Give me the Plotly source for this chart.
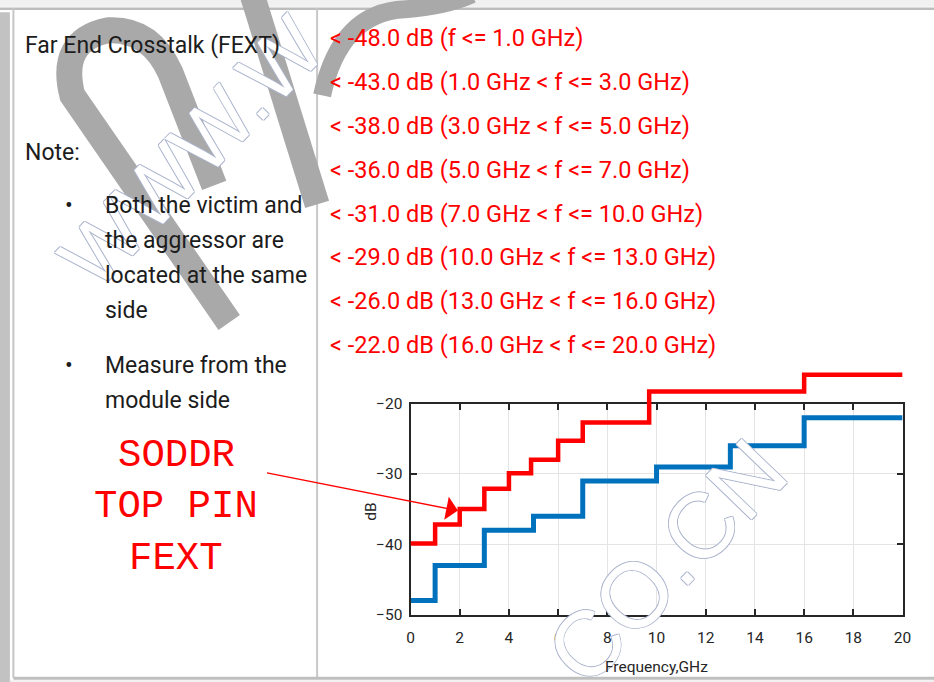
import plotly.graph_objects as go

# ---------------- data ----------------
band_edges_ghz = [0, 1, 3, 5, 7, 10, 13, 16, 20]           # spec frequency band edges
fext_limit_db = [-48, -43, -38, -36, -31, -29, -26, -22]  # spec limit per band (blue)

soddr_freq_ghz = [0, 1.0, 2.0, 3.0, 4.0, 4.9, 6.0, 7.0, 9.7, 16.0, 20.0]
soddr_fext_db = [-39.9, -37.2, -35.0, -32.1, -29.9, -28.0, -25.3, -22.7, -18.3, -15.9, -15.9]

x_ticks = list(range(0, 21, 2))
y_ticks = [-50, -40, -30, -20]

title_left = "Far End Crosstalk (FEXT)"
note_label = "Note:"
bullet1_lines = ["Both the victim and", "the aggressor are", "located at the same", "side"]
bullet2_lines = ["Measure from the", "module side"]
callout_lines = ["SODDR", "TOP PIN", "FEXT"]
x_title = "Frequency,GHz"
y_title = "dB"
watermark_texts = ["WWW.W", "CO.CN"]

# ---------------- layout helpers ----------------
# figure fills the page (body margin removed); positions below are given in
# picture pixels and mapped to page pixels (the capture is slightly scaled/offset)
W, H = 934, 682
SX, OX, SY, OY = 0.987, 3.6, 0.973, 8.7
def px(x):
    return ((x - OX) / SX) / W
def py(y):
    return 1 - ((y - OY) / SY) / H

SANS = "Roboto, Liberation Sans, sans-serif"
TXT = "#1c1c1c"
RED = "#ff0000"
BLUE = "#0072BD"
AX = "#262626"

FL, FR, FT, FB = 410.5, 903, 403, 614
Y_LO, Y_HI = -50, -20
RED_TOP_Y = 358
red_top_db = Y_LO + (FB - RED_TOP_Y) * (Y_HI - Y_LO) / (FB - FT)

blue_x = band_edges_ghz
blue_y = fext_limit_db + [fext_limit_db[-1]]

fig = go.Figure()
fig.add_trace(go.Scatter(x=blue_x, y=blue_y, mode="lines", line_shape="hv",
                         line=dict(color=BLUE, width=5), showlegend=False,
                         xaxis="x", yaxis="y", hoverinfo="skip"))
fig.add_trace(go.Scatter(x=soddr_freq_ghz, y=soddr_fext_db, mode="lines", line_shape="hv",
                         line=dict(color=RED, width=4.5), showlegend=False,
                         xaxis="x2", yaxis="y2", hoverinfo="skip"))

axis_common = dict(showline=True, linecolor=AX, linewidth=2, mirror="allticks",
                   ticks="inside", ticklen=6, tickwidth=1.6, tickcolor=AX,
                   showgrid=True, gridcolor="#e4e4e4", gridwidth=1, zeroline=False,
                   tickfont=dict(family=SANS, size=15.5, color=AX))

fig.update_layout(
    width=W, height=H, autosize=False, margin=dict(l=0, r=0, t=0, b=0),
    paper_bgcolor="white", plot_bgcolor="rgba(0,0,0,0)",
    xaxis=dict(domain=[px(FL), px(FR)], range=[0, 20], tickvals=x_ticks,
               ticklabelstandoff=8, anchor="y", **axis_common),
    yaxis=dict(domain=[py(FB), py(FT)], range=[Y_LO, Y_HI], tickvals=y_ticks,
               ticklabelstandoff=3, anchor="x", **axis_common),
    xaxis2=dict(domain=[px(FL), px(FR)], range=[0, 20], visible=False, anchor="y2"),
    yaxis2=dict(domain=[py(FB), py(RED_TOP_Y)], range=[Y_LO, red_top_db], visible=False, anchor="x2"),
)

ann = []
# watermark outline texts first (real texts are drawn over them)
OUT = "#aab3cc"
shadow = f"1px 0 0 {OUT}, -1px 0 0 {OUT}, 0 1px 0 {OUT}, 0 -1px 0 {OUT}"
for t, (cx, cy), ang, sz in zip(watermark_texts, [(192, 152), (666, 561)], [-46, -46], [84, 92]):
    ann.append(dict(text=t, x=px(cx), y=py(cy), xref="paper", yref="paper",
                    showarrow=False, textangle=ang, xanchor="center", yanchor="middle",
                    font=dict(family="Liberation Sans, Arial", size=sz,
                              color="white", shadow=shadow)))

def text(t, x, y, size=23, color=TXT, family=SANS, xanchor="left", **kw):
    ann.append(dict(text=t, x=px(x), y=py(y), xref="paper", yref="paper",
                    xanchor=xanchor, yanchor="middle", showarrow=False,
                    font=dict(family=family, size=size, color=color), **kw))

text(title_left, 23, 45)
text(note_label, 23, 152)
text("•", 63, 205)
for i, t in enumerate(bullet1_lines):
    text(t, 103, 205 + 35 * i)
text("•", 63, 365)
for i, t in enumerate(bullet2_lines):
    text(t, 103, 365 + 35 * i)

for i, lim in enumerate(fext_limit_db):
    lo, hi = band_edges_ghz[i], band_edges_ghz[i + 1]
    if i == 0:
        t = f"&lt; {lim:.1f} dB (f &lt;= {hi:.1f} GHz)"
    else:
        t = f"&lt; {lim:.1f} dB ({lo:.1f} GHz &lt; f &lt;= {hi:.1f} GHz)"
    text(t, 328, 38 + 43.8 * i, size=23.5, color=RED)

for i, t in enumerate(callout_lines):
    text(t, 176, 455 + 51.5 * i, size=39, color=RED, family="Liberation Mono, monospace", xanchor="center")

text(x_title, 657, 666, size=15.5, color=AX, xanchor="center")
text(y_title, 371, 511, size=15.5, color=AX, xanchor="center", textangle=-90)

ann.append(dict(x=px(458), y=py(510), xref="paper", yref="paper", text="",
                showarrow=True, ax=(268 - 458) / SX, ay=(473 - 510) / SY, axref="pixel", ayref="pixel",
                arrowhead=1, arrowsize=2.6, arrowwidth=1.5, arrowcolor=RED, standoff=0))

fig.update_layout(annotations=ann)

def path_px(cmds):
    out = []
    for c in cmds:
        if isinstance(c, str):
            out.append(c)
        else:
            out.append(f"{px(c[0]):.5f},{py(c[1]):.5f}")
    return " ".join(out)

shapes = []
def rect(x0, y0, x1, y1, color):
    shapes.append(dict(type="rect", xref="paper", yref="paper", x0=px(x0), x1=px(x1),
                       y0=py(y1), y1=py(y0), fillcolor=color, line=dict(width=0), layer="below"))
def line(x0, y0, x1, y1, color, w):
    shapes.append(dict(type="line", xref="paper", yref="paper", x0=px(x0), x1=px(x1),
                       y0=py(y0), y1=py(y1), line=dict(color=color, width=w), layer="below"))

rect(-20, -20, 960, 6.5, "#f1f1f1")
rect(-20, 679, 960, 720, "#f1f1f1")
rect(-20, 12, 9.5, 720, "#c2c2c2")
line(-20, 8.5, 960, 8.5, "#bdbdbd", 2.5)
line(13, 8, 13, 677, "#c6c6c6", 2)
line(317, 8, 317, 677, "#c8c8c8", 2)
line(13, 677.5, 960, 677.5, "#bfbfbf", 3)

GRAY = "#a9a9a9"
for cmds, wdt in [
    (["M", (229, 322), "L", (72, 95), "Q", (58, 40), (108, 30), "Q", (150, 28), (170, 72), "L", (214, 185)], 26),
    (["M", (250, -12), "L", (317, 204)], 25),
    (["M", (322, 95), "Q", (340, 12), (405, 9), "Q", (445, 6), (472, -6)], 18),
]:
    shapes.append(dict(type="path", xref="paper", yref="paper", path=path_px(cmds),
                       line=dict(color=GRAY, width=wdt), layer="below"))

fig.update_layout(shapes=shapes)
fig.write_html("out.html", config={"displayModeBar": False, "responsive": False},
               post_script="document.body.style.margin='0';document.body.style.overflow='hidden';")
